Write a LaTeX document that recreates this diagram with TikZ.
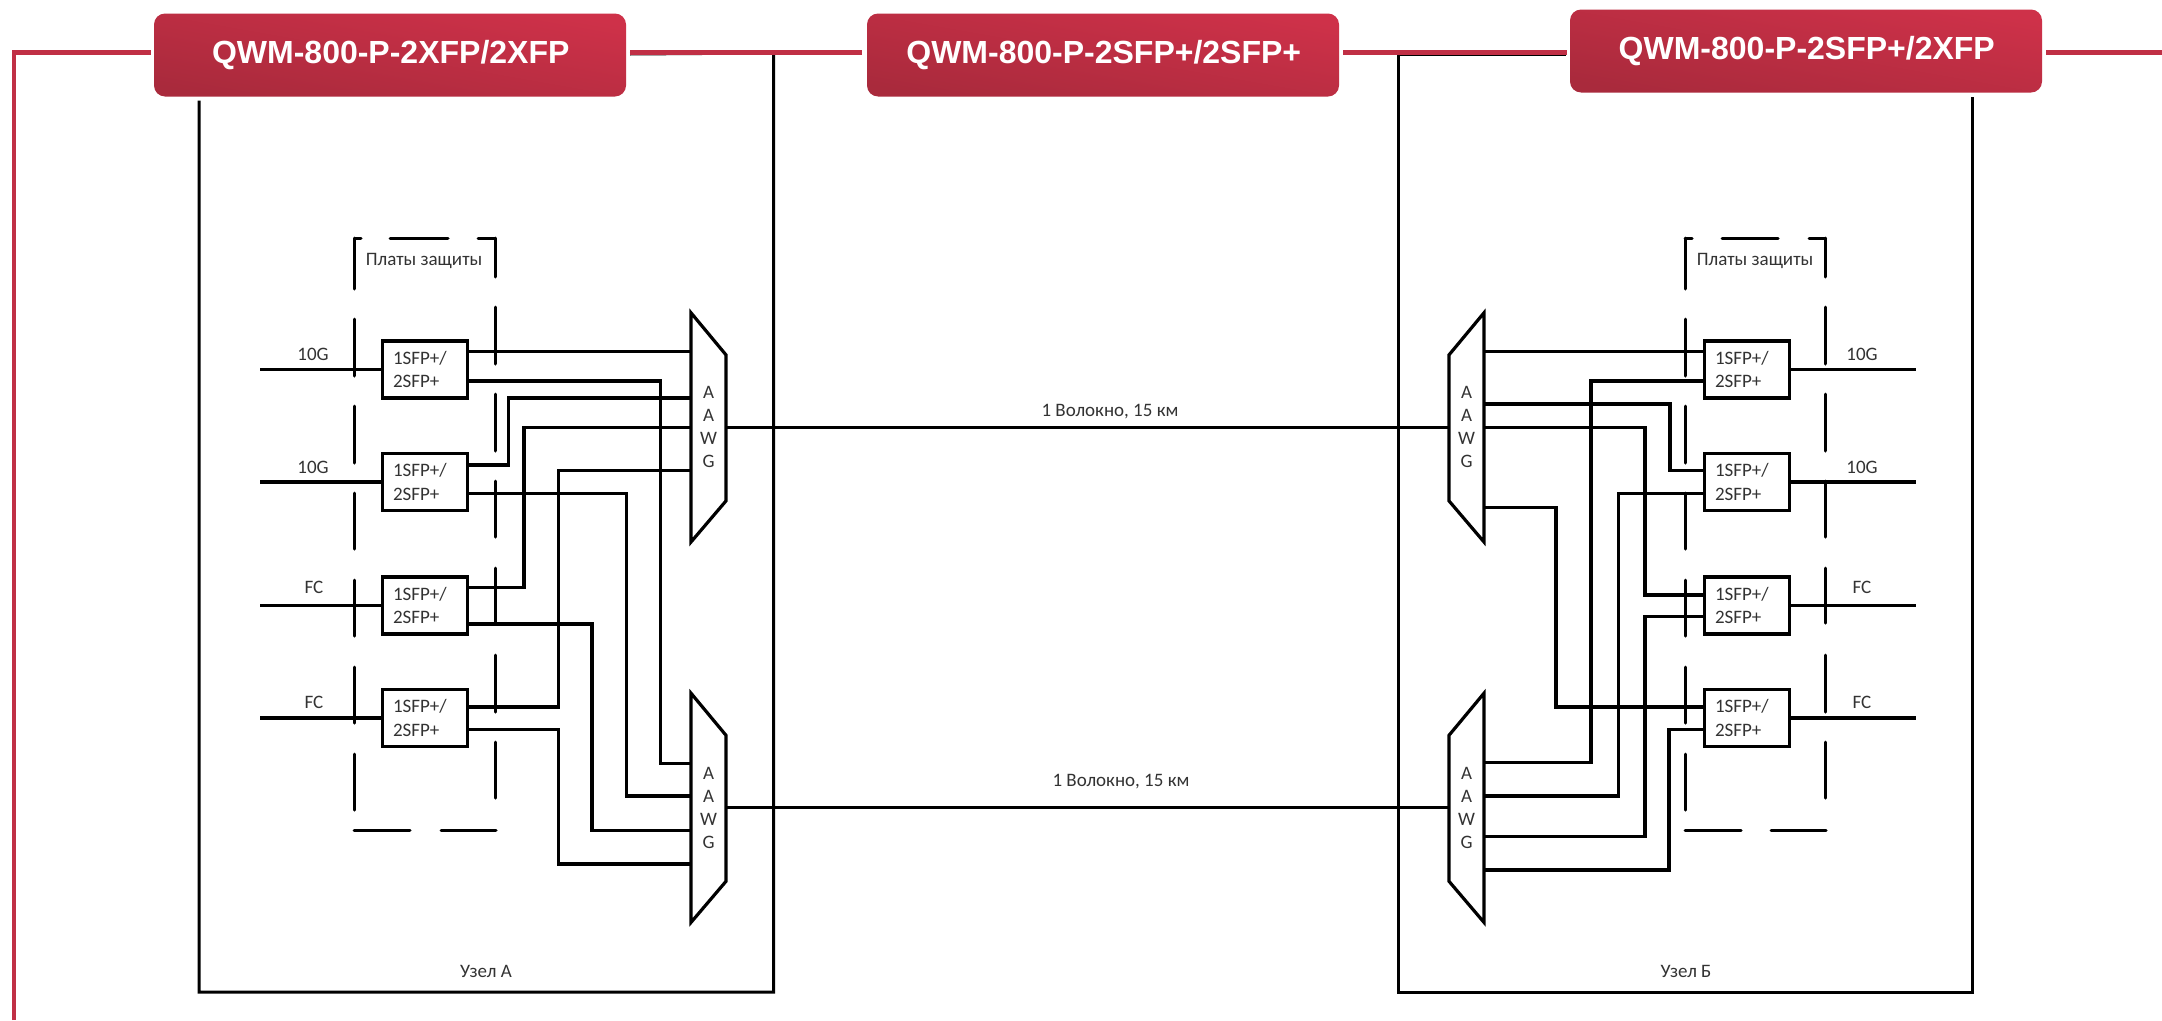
\documentclass[tikz,border=0pt]{standalone}
\usepackage{fontspec}
\setmainfont{Carlito}
\newfontfamily\titlefont{Liberation Sans}[BoldFont={Liberation Sans Bold}]
\definecolor{redline}{HTML}{C02F45}
\definecolor{gradlo}{HTML}{A92A3C}
\definecolor{gradhi}{HTML}{CE3149}
\definecolor{txt}{HTML}{333333}
\tikzset{
  badge/.style={rounded corners=11pt,top color=gradhi,bottom color=gradlo,shading angle=-10,text=white,
    font=\titlefont\bfseries\fontsize{32}{36}\selectfont,minimum width=472pt,minimum height=83pt,inner sep=0pt},
  redwire/.style={color=redline,line width=4.5pt},
  frame/.style={line width=3pt,color=black,line cap=butt,line join=miter},
  wire/.style={line width=3.2pt,color=black,line join=miter},
  dash seg/.style={line width=3pt,color=black,line cap=round},
  sfpbox/.style={draw=black,line width=3.2pt,fill=white,minimum width=85pt,minimum height=57pt,inner sep=0pt,
    text width=64pt,align=left,text=txt,font=\fontsize{19}{23.5}\selectfont},
  awgbox/.style={minimum width=34.5pt,minimum height=228.7pt,inner sep=0pt,align=center,text=txt,
    font=\fontsize{19}{23}\selectfont},
  awgline/.style={line width=3.2pt,color=black,line join=miter,fill=white},
  lbl/.style={text=txt,inner sep=0pt,font=\fontsize{19}{22}\selectfont},
}
\newcommand{\dashedguard}[2]{%
  % #1 left x, #2 right x
  \foreach \a/\b in {238/289,319/376,406/463,493/549,580/636,667/723,754/810}
    \draw[dash seg] (#1,\a) -- (#1,\b);
  \foreach \a/\b in {238/277,307/364,394/451,481/537,568/623,655/712,742/798}
    \draw[dash seg] (#2,\a) -- (#2,\b);
}
\begin{document}
\begin{tikzpicture}[x=1pt,y=-1pt]
\useasboundingbox (0,0) rectangle (2162,1020);
\fill[white] (0,0) rectangle (2162,1020);

% badges
\node[badge] (b1) at (390,55) {\hspace*{1.5pt}QWM-800-P-2XFP/2XFP};
\node[badge] (b2) at (1103,55) {\hspace*{1.5pt}QWM-800-P-2SFP+/2SFP+};
\node[badge] (b3) at (1806,51) {\hspace*{1.5pt}QWM-800-P-2SFP+/2XFP};

% site frames
\coordinate (aTL) at (199,100.5);
\coordinate (aBL) at (199,992);
\coordinate (aBR) at (773.5,992);
\coordinate (aTR) at (773.5,53);
\coordinate (aTM) at (630,54);
\coordinate (bTL) at (1566,54);
\coordinate (bTM) at (1398.5,54);
\coordinate (bBL) at (1398.5,992);
\coordinate (bBR) at (1972.5,992);
\coordinate (bTR) at (1972.5,96.5);
\draw[frame] (aTL) -- (aBL) -- (aBR) -- (aTR) -- (aTM);
\draw[frame] (bTL) -- (bTM) -- (bBL) -- (bBR) -- (bTR);

% red rule
\coordinate (r0) at (14,1020);
\coordinate (r1) at (14,52.7);
\coordinate (r2) at (150.5,52.7);
\coordinate (r3) at (630,52.7);
\coordinate (r4) at (862,52.7);
\coordinate (r5) at (1343,52.7);
\coordinate (r6) at (1566.5,52.7);
\coordinate (r7) at (2046,52.7);
\coordinate (r8) at (2162,52.7);
\draw[redwire,line join=miter] (r0) -- (r1) -- (r2);
\draw[redwire] (r3) -- (r4);
\draw[redwire] (r5) -- (r6);
\draw[redwire] (r7) -- (r8);

% guard frames
\dashedguard{354.6}{495}
\dashedguard{1685}{1825.6}
\draw[dash seg] (354.6,238) -- (361,238);
\draw[dash seg] (390,238) -- (448,238);
\draw[dash seg] (478,238) -- (495,238);
\draw[dash seg] (354,830) -- (410,830);
\draw[dash seg] (441,830) -- (496,830);
\draw[dash seg] (1685,238) -- (1692,238);
\draw[dash seg] (1722,238) -- (1778,238);
\draw[dash seg] (1809,238) -- (1825.6,238);
\draw[dash seg] (1685,830) -- (1741,830);
\draw[dash seg] (1771,830) -- (1826,830);
\node[lbl] (ga) at (424,260.5) {Платы защиты};
\node[lbl] (gb) at (1755,260.5) {Платы защиты};

% AWG nodes
\node[awgbox] (wa1) at (708.5,427.4) {};
\node[awgbox] (wa2) at (708.5,807.8) {};
\node[awgbox] (wb1) at (1466.5,427.4) {};
\node[awgbox] (wb2) at (1466.5,807.8) {};

% SFP boxes
\node[sfpbox] (a1) at (425,369.5) {1SFP+/\\2SFP+};
\node[sfpbox] (a2) at (425,482) {1SFP+/\\2SFP+};
\node[sfpbox] (a3) at (425,605.5) {1SFP+/\\2SFP+};
\node[sfpbox] (a4) at (425,718) {1SFP+/\\2SFP+};
\node[sfpbox] (c1) at (1747,369.5) {1SFP+/\\2SFP+};
\node[sfpbox] (c2) at (1747,482) {1SFP+/\\2SFP+};
\node[sfpbox] (c3) at (1747,605.5) {1SFP+/\\2SFP+};
\node[sfpbox] (c4) at (1747,718) {1SFP+/\\2SFP+};

% client lines
\coordinate (ia1) at (260,369.5);
\coordinate (ia2) at (260,482);
\coordinate (ia3) at (260,605.5);
\coordinate (ia4) at (260,718);
\coordinate (oc1) at (1916,369.5);
\coordinate (oc2) at (1916,482);
\coordinate (oc3) at (1916,605.5);
\coordinate (oc4) at (1916,718);
\foreach \n in {1,2,3,4}{
  \draw[wire] (ia\n) -- (a\n.west);
  \draw[wire] (c\n.east) -- (oc\n);
}
\node[lbl] (la1) at (313,354.5) {10G};
\node[lbl] (la2) at (313,467) {10G};
\node[lbl] (la3) at (314,587) {FC};
\node[lbl] (la4) at (314,702) {FC};
\node[lbl] (lc1) at (1862,354.5) {10G};
\node[lbl] (lc2) at (1862,467) {10G};
\node[lbl] (lc3) at (1862,587) {FC};
\node[lbl] (lc4) at (1862,702) {FC};

% wiring site A
\draw[wire] (a1.east |- 0,351.7) -- (wa1.west |- 0,351.7);
\draw[wire] (a1.east |- 0,381) -| (660.7,763.3) -- (wa2.west |- 0,763.3);
\draw[wire] (a2.east |- 0,465) -| (508.7,398) -- (wa1.west |- 0,398);
\draw[wire] (a2.east |- 0,493.3) -| (626.6,796) -- (wa2.west |- 0,796);
\draw[wire] (a3.east |- 0,587.7) -| (524,427.7) -- (wa1.west |- 0,427.7);
\draw[wire] (a3.east |- 0,624) -| (592,830.7) -- (wa2.west |- 0,830.7);
\draw[wire] (a4.east |- 0,707) -| (558.3,470.7) -- (wa1.west |- 0,470.7);
\draw[wire] (a4.east |- 0,729.3) -| (558.3,864) -- (wa2.west |- 0,864);

% wiring site B
\draw[wire] (wb1.east |- 0,351.7) -- (c1.west |- 0,351.7);
\draw[wire] (c1.west |- 0,381) -| (1591,762.7) -- (wb2.east |- 0,762.7);
\draw[wire] (wb1.east |- 0,404) -| (1670,470.7) -- (c2.west |- 0,470.7);
\draw[wire] (c2.west |- 0,493.3) -| (1618.5,796) -- (wb2.east |- 0,796);
\draw[wire] (wb1.east |- 0,427.7) -| (1645,595) -- (c3.west |- 0,595);
\draw[wire] (c3.west |- 0,616.7) -| (1645,836.7) -- (wb2.east |- 0,836.7);
\draw[wire] (wb1.east |- 0,507.7) -| (1556,707) -- (c4.west |- 0,707);
\draw[wire] (c4.west |- 0,729.3) -| (1669,870) -- (wb2.east |- 0,870);

% fibre links
\draw[wire] (wa1.east) -- (wb1.west);
\draw[wire] (wa2.east) -- (wb2.west);
\node[lbl] (f1) at (1110,412) {1 Волокно, 15 км};
\node[lbl] (f2) at (1121,782) {1 Волокно, 15 км};

% AWG outlines
\foreach \n in {wa1,wa2}{
  \draw[awgline] (\n.north west) -- ([yshift=-42pt]\n.north east) -- ([yshift=41pt]\n.south east) -- (\n.south west) -- cycle;
}
\foreach \n in {wb1,wb2}{
  \draw[awgline] (\n.north east) -- ([yshift=-42pt]\n.north west) -- ([yshift=41pt]\n.south west) -- (\n.south east) -- cycle;
}
\node[awgbox] (ta1) at (wa1) {A\\A\\W\\G};
\node[awgbox] (ta2) at (wa2) {A\\A\\W\\G};
\node[awgbox] (tb1) at (wb1) {A\\A\\W\\G};
\node[awgbox] (tb2) at (wb2) {A\\A\\W\\G};

% site labels
\node[lbl] (sa) at (486,971.5) {Узел А};
\node[lbl] (sb) at (1686,971.5) {Узел Б};
\end{tikzpicture}
\end{document}
